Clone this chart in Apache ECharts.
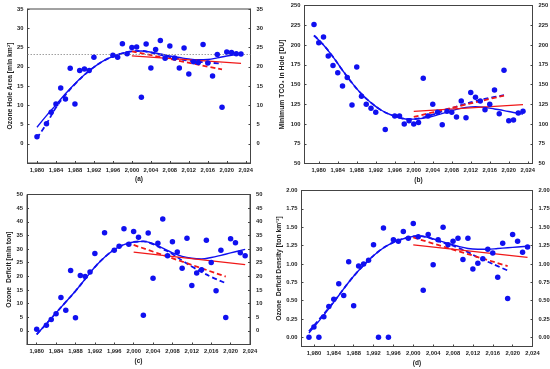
<!DOCTYPE html>
<html><head><meta charset="utf-8">
<script src="https://cdn.jsdelivr.net/npm/echarts@6/dist/echarts.min.js"></script>
<style>html,body{margin:0;padding:0;background:#fff}#c{width:550px;height:369px}</style>
</head><body><div id="c"></div>
<script>
// ---------- shared tick labels ----------
const yearTicks = [1980,1984,1988,1992,1996,2000,2004,2008,2012,2016,2020,2024];
const aTicks = [0,5,10,15,20,25,30,35];
const bTicks = [50,75,100,125,150,175,200,225,250];
const cTicks = [0,5,10,15,20,25,30,35,40,45,50];
const dTicks = [0,0.25,0.5,0.75,1,1.25,1.5,1.75,2];

// ---------- (a) Ozone hole area ----------
const aYears = [1980,1982,1983,1984,1985,1986,1987,1988,1989,1990,1991,1992,1996,1997,1998,1999,2000,2001,2002,2003,2004,2005,2006,2007,2008,2009,2010,2011,2012,2013,2014,2015,2016,2017,2018,2019,2020,2021,2022,2023];
const aArea  = [1.8,5.2,8.2,10.3,14.5,11.6,19.6,10.3,19.0,19.4,19.0,22.5,23.0,22.5,26.0,23.4,25.0,25.1,12.1,25.9,19.7,24.5,26.8,22.2,25.4,22.3,19.7,24.9,18.1,21.3,21.1,25.8,21.0,17.6,23.2,9.5,23.8,23.7,23.4,23.3];
const aFitYears  = [1980,1982,1984,1986,1988,1990,1992,1994,1996,1998,2000,2002,2004,2006,2008,2010,2012,2014,2016,2018,2020,2023];
const aFitSolid  = [4.3,7.3,10.1,13.0,15.6,17.9,19.9,21.5,22.7,23.5,24.0,24.1,23.8,23.3,22.8,22.4,22.0,21.8,21.9,22.3,22.8,23.3];
const aFit2Years = [1980,1982,1984,1986,1988,1990,1992,1994,1996,1998,2000,2002,2004,2006,2008,2010,2012,2014,2016,2019];
const aFitDashed = [1.5,5.2,9.4,12.7,15.5,17.9,19.9,21.5,22.7,23.5,24.0,24.1,23.7,23.1,22.5,22.0,21.6,21.3,21.1,20.8];
const aTrendSolid  = [[2000,22.8],[2023,20.9]];
const aTrendDashed = [[2000,24.0],[2019,19.3]];
const aRefLevel = 23.3;

// ---------- (b) Minimum TCO3 in hole ----------
const bYears = [1979,1980,1981,1982,1983,1984,1985,1986,1987,1988,1989,1990,1991,1992,1994,1996,1997,1998,1999,2000,2001,2002,2003,2004,2005,2006,2007,2008,2009,2010,2011,2012,2013,2014,2015,2016,2017,2018,2019,2020,2021,2022,2023];
const bMin   = [226,203,210,186,174,165,148,159,124,172,135,125,120,115,93,110,110,100,104,100,102,158,110,125,115,99,116,115,109,129,108,140,134,129,118,125,143,113,168,104,105,114,116];
const bFitYears  = [1979,1981,1983,1985,1987,1989,1991,1993,1995,1997,1999,2001,2003,2005,2007,2009,2011,2013,2015,2017,2019,2021,2023];
const bFitSolid  = [212,200,185,168,152,138,127,118,112,108,106,106.5,108.5,111.5,115,118.5,121,122,121,119,117,114.5,112.5];
const bFit2Years = [1979,1981,1983,1985,1987,1989,1991,1993,1995,1997,1999,2001,2004,2007,2010,2013,2016,2019];
const bFitDashed = [212,200,185,168,152,138,127,118,112,108,106,107,112,118,124,129,133,136.5];
const bTrendSolid  = [[2000,116],[2023,124.5]];
const bTrendDashed = [[2000,109],[2019,136]];

// ---------- (c) Ozone deficit ----------
const cYears = [1980,1982,1983,1984,1985,1986,1987,1988,1989,1990,1991,1992,1994,1996,1997,1998,1999,2000,2001,2002,2003,2004,2005,2006,2007,2008,2009,2010,2011,2012,2013,2014,2015,2016,2017,2018,2019,2020,2021,2022,2023];
const cDeficit = [0.6,2.1,4.2,6.3,12.2,7.6,22.1,4.8,20.3,19.9,21.6,28.4,36.0,29.6,31.0,37.4,31.8,36.4,34.3,5.7,35.9,19.3,32.1,41.0,27.5,32.7,28.9,23.0,34.0,16.6,21.2,22.4,33.2,25.1,14.7,29.6,4.9,33.8,32.3,28.6,27.5];
const cFitYears  = [1980,1982,1984,1986,1988,1990,1992,1994,1996,1998,2000,2002,2004,2006,2008,2010,2012,2014,2016,2018,2020,2023];
const cFitSolid  = [-1.3,2.6,6.6,10.6,14.6,19.0,23.4,27.0,29.8,31.6,32.6,32.8,32.0,30.3,28.6,27.3,26.6,26.4,26.9,27.7,28.6,29.9];
const cFit2Years = [1980,1982,1984,1986,1988,1990,1992,1994,1996,1998,2000,2002,2004,2006,2008,2010,2012,2014,2016,2019];
const cFitDashed = [-1.3,2.6,6.6,10.6,14.6,19.0,23.4,27.0,29.8,31.6,32.6,32.8,31.8,30.0,28.2,25.8,23.6,21.6,19.8,17.5];
const cTrendSolid  = [[2000,28.9],[2023,24.3]];
const cTrendDashed = [[2000,31.5],[2019,19.9]];

// ---------- (d) Ozone deficit density ----------
const dYears = [1979,1980,1981,1982,1983,1984,1985,1986,1987,1988,1989,1990,1991,1992,1993,1994,1995,1996,1997,1998,1999,2000,2001,2002,2003,2004,2005,2006,2007,2008,2009,2010,2011,2012,2013,2014,2015,2016,2017,2018,2019,2020,2021,2022,2023];
const dDensity = [0.00,0.14,0.00,0.28,0.42,0.52,0.73,0.57,1.03,0.43,0.97,1.00,1.05,1.26,0.00,1.49,0.00,1.33,1.31,1.44,1.35,1.55,1.37,0.64,1.40,0.99,1.33,1.50,1.26,1.31,1.35,1.06,1.35,0.93,1.01,1.07,1.20,1.15,0.82,1.28,0.53,1.40,1.31,1.16,1.23];
const dFitYears  = [1979,1981,1983,1985,1987,1989,1991,1993,1995,1997,1999,2001,2003,2005,2007,2009,2011,2013,2015,2017,2019,2021,2023];
const dFitSolid  = [0.06,0.22,0.39,0.57,0.75,0.91,1.05,1.17,1.26,1.32,1.36,1.38,1.36,1.32,1.28,1.24,1.21,1.20,1.20,1.21,1.22,1.23,1.24];
const dFit2Years = [1979,1981,1983,1985,1987,1989,1991,1993,1995,1997,1999,2001,2003,2005,2007,2009,2011,2013,2015,2017,2019];
const dFitDashed = [0.08,0.24,0.40,0.57,0.75,0.91,1.05,1.17,1.26,1.32,1.36,1.38,1.36,1.31,1.27,1.22,1.16,1.09,1.03,0.97,0.91];
const dTrendSolid  = [[2000,1.26],[2023,1.09]];
const dTrendDashed = [[2000,1.36],[2019,0.97]];

// ---------- styling ----------
const BLUE = '#1010f0', RED = '#f01818', FRAME = '#444', TXT = '#222';
const FONT = 'Liberation Sans';
const zip = (xs, ys) => xs.map((x, i) => [x, ys[i]]);

const panels = [
  {grid:{left:27.5, top:9, width:223, height:154}, xMin:1978, xMax:2025, yMin:-5, yMax:35, yTicks:aTicks, fmt:v=>String(v),
   name:'Ozone Hole Area [mln km²]', tag:'(a)', pts:zip(aYears,aArea), fs:zip(aFitYears,aFitSolid), fd:zip(aFit2Years,aFitDashed), ts:aTrendSolid, td:aTrendDashed, ref:aRefLevel},
  {grid:{left:304.5, top:5.5, width:228, height:158}, xMin:1977, xMax:2025, yMin:50, yMax:250, yTicks:bTicks, fmt:v=>String(v),
   name:'Minimum TCO₃ in Hole [DU]', tag:'(b)', pts:zip(bYears,bMin), fs:zip(bFitYears,bFitSolid), fd:zip(bFit2Years,bFitDashed), ts:bTrendSolid, td:bTrendDashed},
  {grid:{left:27, top:194.5, width:223, height:150}, xMin:1978, xMax:2024, yMin:-5, yMax:50, yTicks:cTicks, fmt:v=>String(v),
   name:'Ozone  Deficit [mln ton]', tag:'(c)', pts:zip(cYears,cDeficit), fs:zip(cFitYears,cFitSolid), fd:zip(cFit2Years,cFitDashed), ts:cTrendSolid, td:cTrendDashed},
  {grid:{left:301.5, top:190.5, width:231, height:156}, xMin:1977.5, xMax:2024, yMin:-0.125, yMax:2, yTicks:dTicks, fmt:v=>v.toFixed(2),
   name:'Ozone  Deficit Density [ton km⁻²]', tag:'(d)', pts:zip(dYears,dDensity), fs:zip(dFitYears,dFitSolid), fd:zip(dFit2Years,dFitDashed), ts:dTrendSolid, td:dTrendDashed}
];

const grid = [], xAxis = [], yAxis = [], series = [];
const lbl = {fontSize:5.8, fontWeight:'bold', color:TXT, fontFamily:FONT};
panels.forEach((p, i) => {
  grid.push(Object.assign({show:true, borderColor:FRAME, borderWidth:1, backgroundColor:'#fff', containLabel:false, outerBoundsMode:'none'}, p.grid));
  xAxis.push({type:'value', gridIndex:i, min:p.xMin, max:p.xMax,
    axisLine:{show:true, onZero:false, lineStyle:{color:FRAME, width:1}},
    axisTick:{show:true, inside:true, length:2, customValues:yearTicks, lineStyle:{color:FRAME}},
    axisLabel:Object.assign({customValues:yearTicks, margin:4}, lbl),
    splitLine:{show:false},
    name:p.tag, nameLocation:'middle', nameGap:13,
    nameTextStyle:{fontSize:6.5, fontWeight:'bold', color:TXT, fontFamily:FONT}});
  const yBase = {type:'value', gridIndex:i, min:p.yMin, max:p.yMax, splitLine:{show:false},
    axisLine:{show:true, onZero:false, lineStyle:{color:FRAME, width:1}},
    axisTick:{show:true, inside:true, length:2, customValues:p.yTicks, lineStyle:{color:FRAME}}};
  yAxis.push(Object.assign({}, yBase, {position:'left',
    axisLabel:Object.assign({customValues:p.yTicks, margin:4, formatter:p.fmt}, lbl),
    name:p.name, nameLocation:'middle', nameRotate:90, nameGap:i%2 ? 19 : 14,
    nameTextStyle:{fontSize:6.8, fontWeight:'bold', color:TXT, fontFamily:FONT}}));
  yAxis.push(Object.assign({}, yBase, {position:'right',
    axisLabel:Object.assign({customValues:p.yTicks, margin:6, formatter:p.fmt}, lbl)}));
  const xi = i, yi = i*2;
  const ln = (data, color, width, dashed, z) => ({type:'line', xAxisIndex:xi, yAxisIndex:yi, data, smooth:0.4, symbol:'none', z,
    lineStyle:{color, width, type: dashed ? [5,3] : 'solid'}, silent:true, animation:false});
  const s0 = ln(p.fs, BLUE, 1.4, false, 3);
  if (p.ref !== undefined) {
    s0.markLine = {silent:true, symbol:'none', animation:false, label:{show:false},
      lineStyle:{color:'#888', type:[1.5,1.5], width:0.8}, data:[{yAxis:p.ref}]};
  }
  series.push(s0);
  series.push(ln(p.fd, BLUE, 1.8, true, 3));
  series.push(ln(p.ts, RED, 1.2, false, 4));
  series.push(ln(p.td, RED, 1.8, true, 4));
  series.push({type:'scatter', xAxisIndex:xi, yAxisIndex:yi, data:p.pts, symbolSize:5.5, z:5,
    itemStyle:{color:BLUE, opacity:1}, animation:false, silent:true});
});

const chart = echarts.init(document.getElementById('c'), null, {renderer:'canvas'});
chart.setOption({backgroundColor:'#fff', animation:false, grid, xAxis, yAxis, series});
</script></body></html>
